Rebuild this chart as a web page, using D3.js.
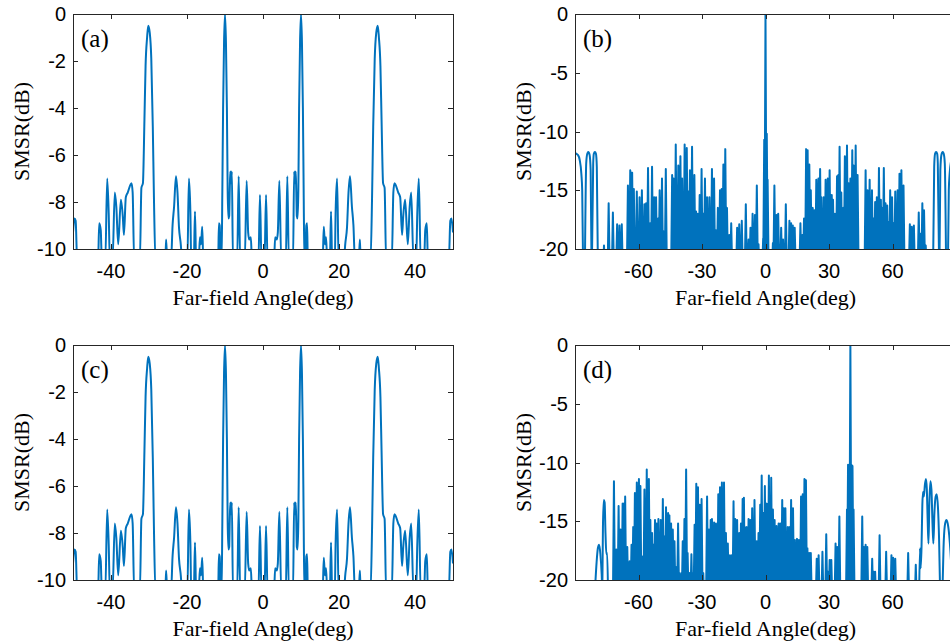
<!DOCTYPE html>
<html>
<head>
<meta charset="utf-8">
<script src="https://cdn.jsdelivr.net/npm/d3@7"></script>
<style>
  body { margin: 0; background: #fff; }
</style>
</head>
<body>
<div id="chart"></div>
<script>
// four-beam pattern, panels (a) and (c) - [angle, dB]
const fourBeam = [
  [-50,-9.3],[-49.6,-8.7],[-49.3,-8.8],[-48.9,-10.5],
  [-43.4,-10.5],[-43.1,-8.9],[-42.7,-9.2],[-42.4,-10.5],
  [-41.5,-10.5],[-41.0,-7.0],[-40.6,-8.5],[-40.3,-10.5],
  [-39.6,-10.5],[-39.0,-7.6],[-38.6,-8.2],[-38.1,-9.8],[-37.4,-7.9],[-36.9,-8.6],[-36.6,-9.4],
  [-36.1,-7.8],[-35.6,-7.6],[-34.6,-7.2],[-34.3,-7.6],[-33.9,-10.5],
  [-32.4,-10.5],[-32.0,-7.4],[-31.6,-7.2],[-31.2,-4.5],[-30.9,-2.2],[-30.5,-1.0],[-30.2,-0.5],
  [-29.8,-0.8],[-29.4,-1.9],[-29.0,-4.8],[-28.7,-7.8],[-28.3,-10.5],
  [-25.7,-10.5],[-25.5,-9.6],[-25.2,-10.5],
  [-24.2,-10.5],[-23.8,-9.0],[-23.4,-8.2],[-22.9,-6.9],[-22.5,-7.6],[-22.1,-9.1],[-21.7,-9.7],[-21.2,-10.5],
  [-19.9,-10.5],[-19.5,-7.0],[-19.1,-8.5],[-18.9,-10.5],
  [-18.2,-10.5],[-17.9,-8.4],[-17.6,-10.5],
  [-16.9,-10.5],[-16.6,-9.5],[-16.3,-9.8],[-16.0,-9.05],[-15.7,-10.5],
  [-11.8,-10.5],[-11.6,-8.9],[-11.4,-9.0],[-11.1,-10.5],
  [-10.9,-10.5],[-10.7,-7.5],[-10.5,-4],[-10.25,-1.2],[-10.0,0],[-9.75,-1.2],[-9.5,-4],[-9.3,-7.5],
  [-9.1,-8.7],[-8.9,-8.6],[-8.75,-7.5],[-8.6,-6.7],[-8.4,-7.2],[-8.2,-6.7],[-7.9,-10.5],
  [-6.8,-10.5],[-6.4,-6.9],[-6.0,-10.5],
  [-4.8,-10.5],[-4.3,-7.1],[-3.9,-9.3],[-3.6,-9.6],[-3.2,-9.5],[-2.9,-10.5],
  [-1.2,-10.5],[-0.8,-7.7],[-0.4,-10.5],[0.4,-10.5],[0.8,-7.7],[1.2,-10.5],
  [2.9,-10.5],[3.2,-9.5],[3.6,-9.6],[3.9,-9.3],[4.3,-7.1],[4.8,-10.5],
  [6.0,-10.5],[6.4,-6.9],[6.8,-10.5],
  [7.9,-10.5],[8.2,-6.7],[8.4,-7.2],[8.6,-6.7],[8.75,-7.5],[8.9,-8.6],[9.1,-8.7],
  [9.3,-7.5],[9.5,-4],[9.75,-1.2],[10.0,0],[10.25,-1.2],[10.5,-4],[10.7,-7.5],[10.9,-10.5],
  [11.1,-10.5],[11.4,-9.0],[11.6,-8.9],[11.8,-10.5],
  [15.7,-10.5],[16.0,-9.05],[16.3,-9.8],[16.6,-9.5],[16.9,-10.5],
  [17.6,-10.5],[17.9,-8.4],[18.2,-10.5],
  [18.9,-10.5],[19.1,-8.5],[19.5,-7.0],[19.9,-10.5],
  [21.2,-10.5],[21.7,-9.7],[22.1,-9.1],[22.5,-7.6],[22.9,-6.9],[23.4,-8.2],[23.8,-9.0],[24.2,-10.5],
  [25.2,-10.5],[25.5,-9.6],[25.7,-10.5],
  [28.3,-10.5],[28.7,-7.8],[29.0,-4.8],[29.4,-1.9],[29.8,-0.8],[30.2,-0.5],[30.5,-1.0],
  [30.9,-2.2],[31.2,-4.5],[31.6,-7.2],[32.0,-7.4],[32.4,-10.5],
  [33.9,-10.5],[34.3,-7.6],[34.6,-7.2],[35.6,-7.6],[36.1,-7.8],[36.6,-9.4],[36.9,-8.6],
  [37.4,-7.9],[38.1,-9.8],[38.6,-8.2],[39.0,-7.6],[39.6,-10.5],
  [40.3,-10.5],[40.6,-8.5],[41.0,-7.0],[41.5,-10.5],
  [42.4,-10.5],[42.7,-9.2],[43.1,-8.9],[43.4,-10.5],
  [48.9,-10.5],[49.3,-8.8],[49.6,-8.7],[50,-9.3]
];

// panel (b): broad lobes near end-fire, then narrow side-lobe peaks
const steerZeroEdges = [
  [[-90,-11.8],[-89.7,-11.85],[-88.6,-12.0],[-87.8,-12.4],[-87.0,-13.6],[-86.6,-15.0],[-86.2,-21]],
  [[-85.3,-21],[-84.7,-12.7],[-84.2,-11.9],[-83.7,-11.75],[-83.1,-12.0],[-82.6,-13.3],[-82.2,-21]],
  [[-82.0,-21],[-81.4,-12.7],[-81.1,-11.9],[-80.6,-11.75],[-80.1,-11.9],[-79.7,-13.0],[-79.2,-21]],
  [[79.2,-21],[79.7,-13.0],[80.1,-11.9],[80.6,-11.75],[81.1,-11.9],[81.4,-12.7],[82.0,-21]],
  [[82.2,-21],[82.6,-13.3],[83.1,-12.0],[83.7,-11.75],[84.2,-11.9],[84.7,-12.7],[85.3,-21]],
  [[86.2,-21],[86.6,-15.0],[87.0,-13.6],[87.8,-12.4],[88.6,-12.0],[89.7,-11.85],[90,-11.8]]
];
const steerZeroPeaks = [
  [-76.3,-19.7],[-74.1,-16.1],[-72.1,-16.9],[-70.1,-17.9],[-69.0,-18.0],[-67.9,-17.9],
  [-65.0,-14.6],[-63.9,-13.3],[-63.0,-13.5],[-62.2,-14.9],[-60.8,-15.1],[-59.5,-15.6],[-58.4,-15.0],
  [-57.2,-16.2],[-56.4,-16.1],[-55.5,-13.1],[-54.5,-17.8],[-53.6,-13.0],[-52.6,-15.6],[-51.7,-15.6],
  [-50.7,-17.4],[-50.0,-15.0],[-48.9,-14.0],[-48.1,-18.5],[-47.1,-13.2],
  [-44.1,-13.7],[-43.4,-14.0],[-42.4,-11.1],[-41.8,-17.0],[-41.2,-12.9],[-40.2,-12.1],[-39.4,-14.0],
  [-38.2,-11.1],[-37.2,-11.4],[-36.4,-15.1],[-35.7,-13.3],[-34.7,-11.3],[-33.6,-13.7],[-32.8,-16.8],
  [-32.0,-17.0],[-31.1,-15.4],[-30.2,-13.2],[-29.4,-17.0],[-28.6,-14.0],[-27.6,-15.6],[-26.5,-15.6],
  [-25.3,-13.2],[-24.3,-14.0],[-23.4,-18.4],[-22.5,-16.5],[-21.5,-15.0],[-20.7,-14.9],[-19.9,-12.8],
  [-19.0,-11.5],[-18.2,-16.5],[-17.1,-18.8],[-16.2,-17.8],
  [-13.4,-18.2],[-12.4,-17.9],[-11.2,-17.6],[-9.3,-16.2],[-8.0,-19.2],[-7.1,-18.2],[-6.1,-17.0],
  [-5.0,-17.1],[-4.1,-14.6],[-3.3,-19.6],[-1.1,-19.1],
  [-0.6,-10.7],[-0.25,-11.0],[0,0],[0.3,-10.5],[0.6,-10.2],[1.0,-14.1],
  [3.5,-19.5],[4.2,-14.6],[5.2,-17.1],[6.0,-17.0],[7.4,-18.2],[8.3,-19.2],[9.6,-16.2],
  [11.3,-17.6],[12.1,-17.8],[12.9,-18.0],[13.8,-18.2],
  [16.5,-17.8],[17.4,-18.8],[18.2,-17.4],[19.2,-11.5],[19.9,-11.6],[20.7,-12.8],[21.4,-15.0],
  [22.3,-16.5],[23.1,-16.7],[24.0,-14.1],[25.0,-14.0],[25.8,-13.2],[26.4,-15.6],[27.5,-15.6],
  [28.4,-14.1],[29.4,-14.0],[30.3,-13.3],[31.3,-15.4],[31.9,-15.8],[32.8,-17.0],[33.8,-13.8],
  [34.4,-13.7],[35.0,-11.3],[35.8,-15.2],[36.8,-16.5],[37.5,-12.1],[38.5,-11.2],[39.3,-14.4],
  [40.1,-14.0],[41.0,-11.6],[41.6,-12.9],[42.6,-11.2],[43.5,-13.7],
  [47.3,-13.3],[48.2,-15.0],[49.2,-14.1],[50.3,-15.0],[51.1,-17.4],[51.8,-16.0],[52.6,-15.6],
  [53.6,-13.1],[54.5,-15.8],[55.1,-16.5],[55.9,-13.1],[56.7,-16.1],[57.5,-16.3],[58.1,-17.7],
  [58.9,-15.0],[59.8,-15.6],[60.5,-17.8],[61.3,-15.1],[62.4,-15.0],[63.3,-13.6],[64.2,-13.3],[65.2,-14.6],
  [68.2,-17.9],[69.1,-18.1],[70.1,-18.0],[72.4,-16.9],[73.2,-18.7],[74.1,-16.1],[74.9,-16.7],[75.7,-19.7]
];

// panel (d): beam steered to 40 deg
const steerFortyEdges = [
  [[-80.6,-21],[-79.8,-18.5],[-79.2,-17.3],[-78.6,-17.0],[-78.0,-17.8],[-77.4,-19.5],[-77.1,-21]],
  [[-77.1,-21],[-76.8,-15.5],[-76.4,-13.2],[-76.0,-13.4],[-75.6,-16],[-75.2,-17.8],[-74.8,-17.7],[-74.4,-21]],
  [[72.6,-21],[73.0,-17.3],[73.3,-19],[73.7,-17.3],[74.1,-13.6],[74.4,-12.5],[74.8,-12.9],[75.3,-11.9],
   [75.8,-11.4],[76.2,-12.2],[76.6,-14.8],[77.0,-16.9],[77.4,-13.5],[77.9,-11.6],[78.4,-12.3],
   [78.9,-15.2],[79.3,-16.9],[79.8,-14.3],[80.4,-12.9],[80.9,-12.7],[81.5,-13.9],[82.0,-16.5],[82.5,-21]],
  [[83.6,-21],[84.1,-17.3],[84.7,-15.4],[85.4,-14.9],[86.1,-15.2],[86.8,-16.2],[87.4,-17.6],[88,-19.5],[88.5,-21]]
];
const steerFortyPeaks = [
  [-71.6,-11.6],[-70.5,-17.4],[-69.4,-13.7],[-68.5,-15.7],[-67.5,-13.5],[-66.9,-13.5],[-66.3,-12.9],
  [-65.3,-17.2],[-64.2,-18.4],[-63.3,-17.0],[-62.5,-15.5],[-61.7,-12.6],[-60.8,-11.7],[-59.8,-11.4],
  [-59.1,-12.0],[-58.3,-18.0],[-57.2,-12.3],[-56.1,-10.6],[-55.1,-11.4],[-54.4,-14.9],[-53.6,-16.0],
  [-52.9,-17.0],[-52.2,-14.9],[-51.4,-15.2],[-50.6,-14.8],[-49.5,-14.9],[-48.5,-13.1],[-47.8,-16.3],
  [-47.0,-13.8],[-46.0,-14.3],[-45.4,-14.5],[-44.6,-15.2],[-43.8,-15.7],[-43.0,-16.7],[-42.3,-18.9],
  [-41.3,-15.2],[-40.7,-19.4],[-39.7,-19.4],[-39.1,-16.7],[-38.3,-14.8],[-37.5,-10.6],[-36.8,-17.7],
  [-36.0,-19.4],[-35.0,-17.8],[-34.2,-19.4],[-33.5,-15.3],[-32.7,-11.8],[-31.9,-12.1],[-31.1,-13.6],
  [-30.2,-13.1],[-29.4,-19.4],
  [-27.6,-12.9],[-26.7,-15.7],[-25.9,-14.9],[-25.3,-14.8],[-24.3,-15.1],[-23.4,-15.2],[-22.3,-12.7],
  [-21.5,-12.1],[-20.6,-11.7],[-19.6,-11.7],[-18.7,-16.0],[-17.8,-16.9],[-16.8,-17.9],[-15.9,-17.9],
  [-15.1,-13.3],[-14.3,-14.8],[-13.4,-14.9],[-12.4,-16.0],[-11.6,-15.2],[-10.8,-13.1],[-10.2,-13.0],
  [-9.6,-15.5],[-8.8,-15.5],[-8.0,-14.8],[-7.2,-14.9],[-6.3,-13.9],[-5.2,-13.2],[-4.2,-16.7],
  [-3.3,-16.0],[-2.5,-13.6],[-1.8,-11.1],[-0.9,-14.3],[-0.3,-12.0],[0.6,-13.5],[1.6,-11.1],[2.7,-11.3],
  [3.5,-14.0],[4.3,-14.9],[5.2,-15.4],[6.2,-15.2],[7.0,-15.2],[7.9,-13.2],[8.6,-13.9],[9.4,-13.9],
  [10.5,-15.5],[11.3,-15.5],[12.1,-13.2],[13.0,-13.9],[13.9,-16.6],[14.9,-16.5],[15.8,-16.6],
  [16.8,-12.9],[17.6,-12.7],[18.4,-11.4],[19.1,-11.5],[19.8,-17.3],[20.6,-17.7],[21.4,-17.7],
  [24.2,-18.2],[25.1,-17.9],[26.9,-17.6],[28.7,-16.1],[29.5,-19.3],[30.3,-18.3],[31.1,-18.3],
  [33.1,-16.9],[33.9,-17.2],[34.9,-14.6],
  [38.5,-14.0],[39.0,-10.2],[39.5,-10.3],[40.1,0],[40.6,-10.2],[41.1,-10.3],[41.6,-14.0],
  [45.7,-14.6],[46.5,-17.2],[47.3,-17.0],[48.1,-17.2],[50.4,-18.2],[51.1,-19.3],[51.8,-19.3],
  [53.9,-16.2],[57.0,-17.6],[59.5,-17.9],[60.3,-18.1],[61.3,-18.2],[67.4,-17.7],[71.0,-18.7]
];

const narrowAngleTicks = [-40, -20, 0, 20, 40];
const wideAngleTicks = [-60, -30, 0, 30, 60];
const fineLevelTicks = [0, -2, -4, -6, -8, -10];
const coarseLevelTicks = [0, -5, -10, -15, -20];

const W = 950, H = 644;
const blue = '#0072BD';
const axisColor = '#262626';
const sansFont = '"Liberation Sans", Arial, sans-serif';
const serifFont = '"Liberation Serif", "Times New Roman", serif';
const spikeHalf = 0.5;

const svg = d3.select('#chart').append('svg')
  .attr('width', W)
  .attr('height', H);

function drawPanel(cfg) {
  let x = d3.scaleLinear().domain(cfg.xDomain).range([cfg.left, cfg.right]);
  let y = d3.scaleLinear().domain(cfg.yDomain).range([cfg.bottom, cfg.top]);

  let clipId = 'clip-' + cfg.name;
  svg.append('clipPath').attr('id', clipId)
    .append('rect')
    .attr('x', cfg.left)
    .attr('y', cfg.top)
    .attr('width', cfg.right - cfg.left)
    .attr('height', cfg.bottom - cfg.top);

  let plot = svg.append('g').attr('clip-path', 'url(#' + clipId + ')');

  let smooth = d3.line()
    .x(d => x(d[0]))
    .y(d => y(d[1]))
    .curve(d3.curveMonotoneX);
  let straight = d3.line()
    .x(d => x(d[0]))
    .y(d => y(d[1]));

  (cfg.curves || []).forEach(pts => {
    plot.append('path')
      .attr('d', smooth(pts))
      .attr('fill', 'none')
      .attr('stroke', blue)
      .attr('stroke-width', 2)
      .attr('stroke-linejoin', 'round');
  });

  if (cfg.peaks) {
    // every side-lobe peak rises from below the axis floor and falls back
    let spikes = cfg.peaks.flatMap(([a, l]) => [
      [a - spikeHalf, cfg.floor], [a, l], [a + spikeHalf, cfg.floor]
    ]);
    plot.append('path')
      .attr('d', straight(spikes))
      .attr('fill', 'none')
      .attr('stroke', blue)
      .attr('stroke-width', 2)
      .attr('stroke-linejoin', 'round');
  }

  let frame = svg.append('g')
    .attr('stroke', axisColor)
    .attr('stroke-width', 1)
    .attr('shape-rendering', 'crispEdges');

  frame.append('rect')
    .attr('x', cfg.left)
    .attr('y', cfg.top)
    .attr('width', cfg.right - cfg.left)
    .attr('height', cfg.bottom - cfg.top)
    .attr('fill', 'none');

  let tickLen = 5;
  cfg.xTicks.forEach(t => {
    let px = Math.round(x(t)) + 0.5;
    frame.append('line').attr('x1', px).attr('x2', px).attr('y1', cfg.bottom).attr('y2', cfg.bottom - tickLen);
    frame.append('line').attr('x1', px).attr('x2', px).attr('y1', cfg.top).attr('y2', cfg.top + tickLen);
    svg.append('text')
      .attr('x', x(t))
      .attr('y', cfg.bottom + 29)
      .attr('text-anchor', 'middle')
      .attr('font-family', sansFont)
      .attr('font-size', 20)
      .attr('fill', '#000')
      .text(String(t));
  });

  cfg.yTicks.forEach(t => {
    let py = Math.round(y(t)) + 0.5;
    frame.append('line').attr('x1', cfg.left).attr('x2', cfg.left + tickLen).attr('y1', py).attr('y2', py);
    frame.append('line').attr('x1', cfg.right).attr('x2', cfg.right - tickLen).attr('y1', py).attr('y2', py);
    svg.append('text')
      .attr('x', cfg.left - 7)
      .attr('y', y(t))
      .attr('dy', '0.36em')
      .attr('text-anchor', 'end')
      .attr('font-family', sansFont)
      .attr('font-size', 20)
      .attr('fill', '#000')
      .text(String(t));
  });

  svg.append('text')
    .attr('x', (cfg.left + cfg.right) / 2)
    .attr('y', cfg.bottom + 56)
    .attr('text-anchor', 'middle')
    .attr('font-family', serifFont)
    .attr('font-size', 22)
    .attr('fill', '#000')
    .text('Far-field Angle(deg)');

  svg.append('text')
    .attr('transform', 'translate(' + (cfg.left - 44) + ',' + ((cfg.top + cfg.bottom) / 2) + ') rotate(-90)')
    .attr('text-anchor', 'middle')
    .attr('font-family', serifFont)
    .attr('font-size', 22)
    .attr('fill', '#000')
    .text('SMSR(dB)');

  svg.append('text')
    .attr('x', cfg.left + 8)
    .attr('y', cfg.top + 33)
    .attr('font-family', serifFont)
    .attr('font-size', 25)
    .attr('fill', '#000')
    .text(cfg.label);
}

drawPanel({
  name: 'a', label: '(a)',
  left: 73, right: 453, top: 14, bottom: 249,
  xDomain: [-50, 50], yDomain: [-10, 0],
  xTicks: narrowAngleTicks, yTicks: fineLevelTicks,
  curves: [fourBeam]
});

drawPanel({
  name: 'b', label: '(b)',
  left: 575, right: 956, top: 14, bottom: 249,
  xDomain: [-90, 90], yDomain: [-20, 0],
  xTicks: wideAngleTicks, yTicks: coarseLevelTicks,
  curves: steerZeroEdges, peaks: steerZeroPeaks, floor: -22
});

drawPanel({
  name: 'c', label: '(c)',
  left: 73, right: 453, top: 345, bottom: 580,
  xDomain: [-50, 50], yDomain: [-10, 0],
  xTicks: narrowAngleTicks, yTicks: fineLevelTicks,
  curves: [fourBeam]
});

drawPanel({
  name: 'd', label: '(d)',
  left: 575, right: 956, top: 345, bottom: 580,
  xDomain: [-90, 90], yDomain: [-20, 0],
  xTicks: wideAngleTicks, yTicks: coarseLevelTicks,
  curves: steerFortyEdges, peaks: steerFortyPeaks, floor: -22
});
</script>
</body>
</html>
